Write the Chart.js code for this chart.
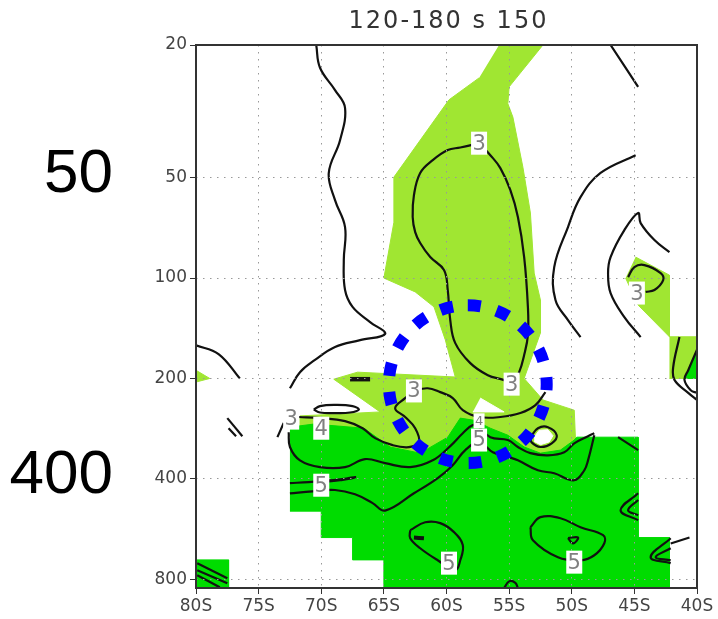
<!DOCTYPE html>
<html>
<head>
<meta charset="utf-8">
<script src="https://cdn.jsdelivr.net/npm/chart.js@4.4.0/dist/chart.umd.min.js"></script>
<style>
  html, body { margin: 0; padding: 0; background: #fff; }
  #wrap { width: 718px; height: 619px; }
</style>
</head>
<body>
<div id="wrap"><canvas id="xsec" width="718" height="619"></canvas></div>
<script>
// axes
const latTicks = [-80, -75, -70, -65, -60, -55, -50, -45, -40];
const presTicks = [20, 50, 100, 200, 400, 800];
const sideMarks = [50, 400];

// shaded areas as [lat, hPa] outlines
const lightTongue = [[-55.8,20],[-52.3,20],[-55.0,26.7],[-55.1,30],[-54.7,32.9],[-53.9,46.5],[-53.3,63.8],
  [-53.0,96.6],[-52.5,116.4],[-52.5,146],[-53.8,200],[-52.3,232],[-49.8,249],[-49.7,306],[-49.7,377],
  [-71.7,377],[-71.7,259],[-65.3,252],[-69.0,201],[-67.1,191.5],[-59.3,198],[-60.1,153],[-61.0,122],
  [-62.5,110],[-65.0,100],[-64.2,68],[-64.2,49.8],[-59.8,29.2],[-57.4,25.1]];
const lightWestSliver = [[-80,189],[-78.9,200],[-80,205]];
const lightEastPatch = [[-44.9,86.5],[-42.2,98],[-42.2,150],[-44.7,120.5],[-45.7,100]];
const lightEastBox = [[-42.2,150],[-40,150],[-40,200],[-42.2,200]];
const gapNotch = [[-57.3,229],[-55.4,252],[-57.9,252]];
const gapHole = [[-53.0,300],[-52.6,286],[-51.9,285],[-51.5,297],[-51.8,310],[-52.5,316],[-53.0,309]];
const darkLower = [[-72.5,280],[-70.6,274],[-66.6,282],[-64.5,321],[-62.1,335],[-59.9,300],[-58.9,263],
  [-57.8,267],[-56.5,282],[-55.1,296],[-53.8,321],[-52.5,335],[-50.9,328],[-49.8,306],[-49.6,300],
  [-44.7,300],[-44.7,600],[-42.2,600],[-42.2,850],[-65,850],[-65,700],[-67.5,700],[-67.5,600],
  [-70,600],[-70,500],[-72.5,500]];
const darkCorner = [[-80,700],[-77.4,700],[-77.4,850],[-80,850]];
const darkEastTip = [[-41.0,200],[-40,200],[-40,164]];

// contour lines
const westWave = [[-70.4,20],[-70.1,23.4],[-68.9,27.3],[-68.1,30.9],[-68.5,38.6],[-69.4,48.4],[-68.9,58.4],
  [-68.1,70.3],[-68.2,88.3],[-68.1,108.6],[-67.5,122],[-66.1,135.5],[-64.9,147],[-66.9,153.5],[-68.9,161],
  [-70.5,176],[-71.7,191.5],[-72.5,214]];
const westArc = [[-80,159],[-78.2,169],[-76.5,200]];
const westDashA = [[-77.5,263],[-76.3,298]];
const westDashB = [[-77.4,282],[-76.8,298]];
const westHook = [[-73.0,272],[-73.5,300]];
const three = [[-71.8,261],[-70.1,263],[-68.1,268.6],[-66.7,282],[-65.7,302],[-64.3,317],[-63.0,321.4],
  [-62.2,310.6],[-62.5,282],[-63.3,261],[-64.1,245.5],[-63.3,229],[-62.6,218.3],[-61.5,214],[-60.5,219.8],
  [-59.5,229],[-58.7,249],[-57.4,261],[-55.7,261],[-54.1,254],[-52.9,240.5],[-52.1,219.8]];
const tongueLoop = [[-57.4,39.4],[-58.9,40.6],[-59.9,41.3],[-61.1,44.3],[-62.1,48.4],[-62.6,56.4],[-62.7,65.6],
  [-62.5,72.8],[-62.1,78.5],[-61.3,86.5],[-60.2,94.6],[-59.9,108.6],[-59.7,133.7],[-59.3,156.7],[-58.1,179.9],
  [-56.7,195.5],[-55.4,202.3],[-54.8,208],[-54.2,191.5],[-53.8,170.2],[-53.5,148.3],[-53.5,122.2],[-53.8,86.5],
  [-54.3,65.6],[-54.9,54.5],[-55.7,46.8],[-56.5,42.8],[-57.4,39.4]];
const four = [[-72.6,290],[-72.5,321],[-71.7,352],[-70.1,369],[-68.1,369],[-66.5,349],[-64.9,359],[-62.9,369],
  [-61.1,352],[-59.7,319],[-58.7,292],[-57.9,276],[-57.4,280],[-56.5,300],[-55.1,306],[-54.3,321],[-53.3,335],
  [-51.9,340],[-50.6,333],[-49.8,313],[-48.7,298],[-48.2,292]];
const fiveHairpin = [[-72.5,412],[-71,409],[-69.5,405],[-68,399],[-67.3,395],[-67.6,399],[-68.5,404],[-69.6,408]];
const five = [[-72.5,442],[-70.7,436],[-68.9,432],[-67.3,445],[-65.9,473],[-64.9,498],[-62.6,442],[-60.7,398],
  [-59.5,364],[-58.5,328],[-57.4,311],[-56.3,333],[-55.3,342],[-54.3,352],[-52.7,377],[-51.4,385],[-49.8,404],
  [-49.0,377],[-48.7,352],[-48.2,296]];
const lowLoopWest = [[-62.9,570],[-61.7,540],[-60.5,543],[-59.4,578],[-58.7,632],[-58.9,702],[-59.3,752],
  [-60.7,702],[-62.1,646],[-62.9,603],[-62.9,570]];
const lowLoopWestCore = [[-62.6,600],[-61.8,603]];
const lowLoopEast = [[-53.3,559],[-52.5,521],[-50.9,525],[-49.3,559],[-47.5,590],[-47.4,624],[-48.2,678],
  [-49.3,702],[-51.1,687],[-53.1,611],[-53.3,559]];
const lowLoopEastCore = [[-50.3,602],[-49.5,600],[-49.9,625],[-50.3,602]];
const chevronA = [[-44.7,442],[-46.1,497],[-44.7,532]];
const chevronB = [[-44.7,463],[-45.5,497],[-44.7,514]];
const cornerA = [[-42.1,603],[-43.7,687],[-42.1,716]];
const cornerB = [[-42.1,646],[-43.3,687],[-42.1,702]];
const cornerTail = [[-42.1,625],[-40.6,600]];
const floorBump = [[-55.4,851],[-55.0,812],[-54.5,820],[-54.3,851]];
const polarA = [[-79.9,716],[-77.5,795]];
const polarB = [[-79.9,752],[-77.5,823]];
const polarC = [[-79.9,778],[-78.1,846]];
const eastTop = [[-46.9,20],[-44.7,26.7]];
const eastBend = [[-44.9,42.8],[-47.7,48.4],[-49.3,57.2],[-50.3,70.3],[-51.4,92.7],[-51.3,116.4],[-50.3,133.7],[-49.3,150.3]];
const eastPeak = [[-42.2,83.6],[-43.4,76.9],[-44.5,68.4],[-44.7,63.8],[-45.8,71.8],[-46.9,86.5],[-47.1,96.6],
  [-46.9,110.9],[-45.8,130.9],[-44.5,150.3]];
const eastCurl = [[-45.5,99.3],[-45.0,92.7],[-44.2,91.4],[-42.9,96.6],[-42.7,101.4],[-43.4,108.6],[-44.1,110]];
const edgeA = [[-41.4,150.3],[-41.9,185],[-41.8,202],[-40.7,221],[-40.0,232]];
const edgeB = [[-40.0,164],[-40.7,189],[-41.0,202],[-40.5,217],[-40.0,221]];
const shelfTick = [[-46.3,300],[-44.7,328]];
const ellipse = [[-70.6,248],[-70.1,242],[-68.9,240],[-67.5,242],[-67.0,248],[-67.7,253],[-68.9,254],[-70.1,253],[-70.6,248]];
const holeRing = [[-53.3,300],[-52.7,282],[-51.9,280],[-51.2,296],[-51.6,313],[-52.5,321],[-53.2,311],[-53.3,300]];
const blob = [[-67.7,201],[-66.1,201]];

// contour labels: lat, hPa, text, small
const contourLabels = [[-57.4,39.4,'3'],[-44.8,110.9,'3'],[-62.6,218,'3'],[-54.8,208,'3'],[-72.4,263,'3'],
  [-70.0,282,'4'],[-57.4,268,'4',true],[-57.4,306,'5'],[-70.0,418,'5'],[-59.8,716,'5'],[-49.8,711,'5']];

const LIGHT = 'rgb(160,230,50)';
const DARK = 'rgb(0,220,0)';

const pts = a => a.map(([x, y]) => ({x, y}));
const shade = (a, color, order) => ({
  data: pts(a), showLine: true, fill: 'shape', backgroundColor: color, borderColor: color,
  borderWidth: 1, pointRadius: 0, tension: 0, order
});
const line = (a, w = 2.2) => ({
  data: pts(a), showLine: true, fill: false, borderColor: '#111', borderWidth: w,
  pointRadius: 0, tension: 0.4, order: 1
});

const datasets = [
  shade(lightTongue, LIGHT, 10), shade(lightWestSliver, LIGHT, 10),
  shade(lightEastPatch, LIGHT, 10), shade(lightEastBox, LIGHT, 10),
  shade(gapNotch, '#fff', 9), shade(gapHole, '#fff', 9),
  shade(darkLower, DARK, 8), shade(darkCorner, DARK, 8), shade(darkEastTip, DARK, 8),
  ...[westWave, westArc, westDashA, westDashB, westHook, three, tongueLoop, four, fiveHairpin, five,
    lowLoopWest, lowLoopEast, lowLoopEastCore, chevronA, chevronB, cornerA, cornerB, cornerTail,
    floorBump, polarA, polarB, polarC, eastTop, eastBend, eastPeak, eastCurl, edgeA, edgeB,
    shelfTick, ellipse, holeRing].map(a => line(a)),
  line(blob, 4.5), line(lowLoopWestCore, 4)
];

const overlay = {
  id: 'overlay',
  afterDraw(chart) {
    const {ctx, chartArea: a, scales: {x, y}} = chart;
    ctx.save();
    // contour value boxes
    ctx.textAlign = 'center';
    ctx.textBaseline = 'middle';
    contourLabels.forEach(([lat, p, t, small]) => {
      const px = x.getPixelForValue(lat), py = y.getPixelForValue(p);
      const w = small ? 11 : 16, h = small ? 15 : 23;
      ctx.fillStyle = '#fff';
      ctx.fillRect(px - w / 2, py - h / 2, w, h);
      ctx.fillStyle = '#808080';
      ctx.font = (small ? 13 : 21) + 'px "DejaVu Sans"';
      ctx.fillText(t, px, py + 1);
    });
    // dashed ring
    const cx = x.getPixelForValue(-58.3), cy = y.getPixelForValue(208);
    const r = x.getPixelForValue(-58.3 + 6.3) - cx;
    ctx.beginPath();
    ctx.arc(cx, cy, r, -Math.PI / 2, Math.PI * 1.5);
    ctx.setLineDash([13, 16.2]);
    ctx.lineWidth = 12;
    ctx.strokeStyle = '#0000ff';
    ctx.stroke();
    ctx.setLineDash([]);
    // frame
    ctx.lineWidth = 2;
    ctx.strokeStyle = '#333';
    ctx.strokeRect(a.left, a.top, a.right - a.left, a.bottom - a.top);
    // title
    ctx.fillStyle = '#333';
    ctx.font = '24px "DejaVu Sans"';
    ctx.letterSpacing = '2px';
    ctx.textBaseline = 'middle';
    ctx.fillText('120-180 s 150', (a.left + a.right) / 2 + 2, 22);
    ctx.letterSpacing = '0px';
    // large level marks
    ctx.fillStyle = '#000';
    ctx.font = '62px "Liberation Sans"';
    ctx.textAlign = 'right';
    sideMarks.forEach(v => ctx.fillText(String(v), 113, y.getPixelForValue(v) - 3));
    ctx.restore();
  }
};

const gridOpts = {z: 1, color: '#999', tickLength: 6, tickColor: '#333', tickBorderDash: []};
const borderOpts = {display: false, dash: [1.5, 5.5]};

new Chart(document.getElementById('xsec'), {
  type: 'scatter',
  data: {datasets},
  plugins: [overlay],
  options: {
    responsive: false,
    animation: false,
    layout: {padding: {top: 45, right: 21, left: 0, bottom: 0}},
    plugins: {legend: {display: false}, tooltip: {enabled: false}, title: {display: false}},
    scales: {
      x: {
        type: 'linear', min: -80, max: -40,
        afterBuildTicks: s => { s.ticks = latTicks.map(v => ({value: v})); },
        afterFit: s => { s.height = 31; },
        ticks: {callback: v => `${-v}S`, color: '#444', font: {family: 'DejaVu Sans', size: 17}, padding: 2, maxRotation: 0},
        grid: gridOpts,
        border: borderOpts
      },
      y: {
        type: 'logarithmic', min: 20, max: 850, reverse: true,
        afterBuildTicks: s => { s.ticks = presTicks.map(v => ({value: v})); },
        afterFit: s => { s.width = 196; },
        ticks: {callback: v => String(v), color: '#444', font: {family: 'DejaVu Sans', size: 17}, padding: 3},
        grid: gridOpts,
        border: borderOpts
      }
    }
  }
});
</script>
</body>
</html>
